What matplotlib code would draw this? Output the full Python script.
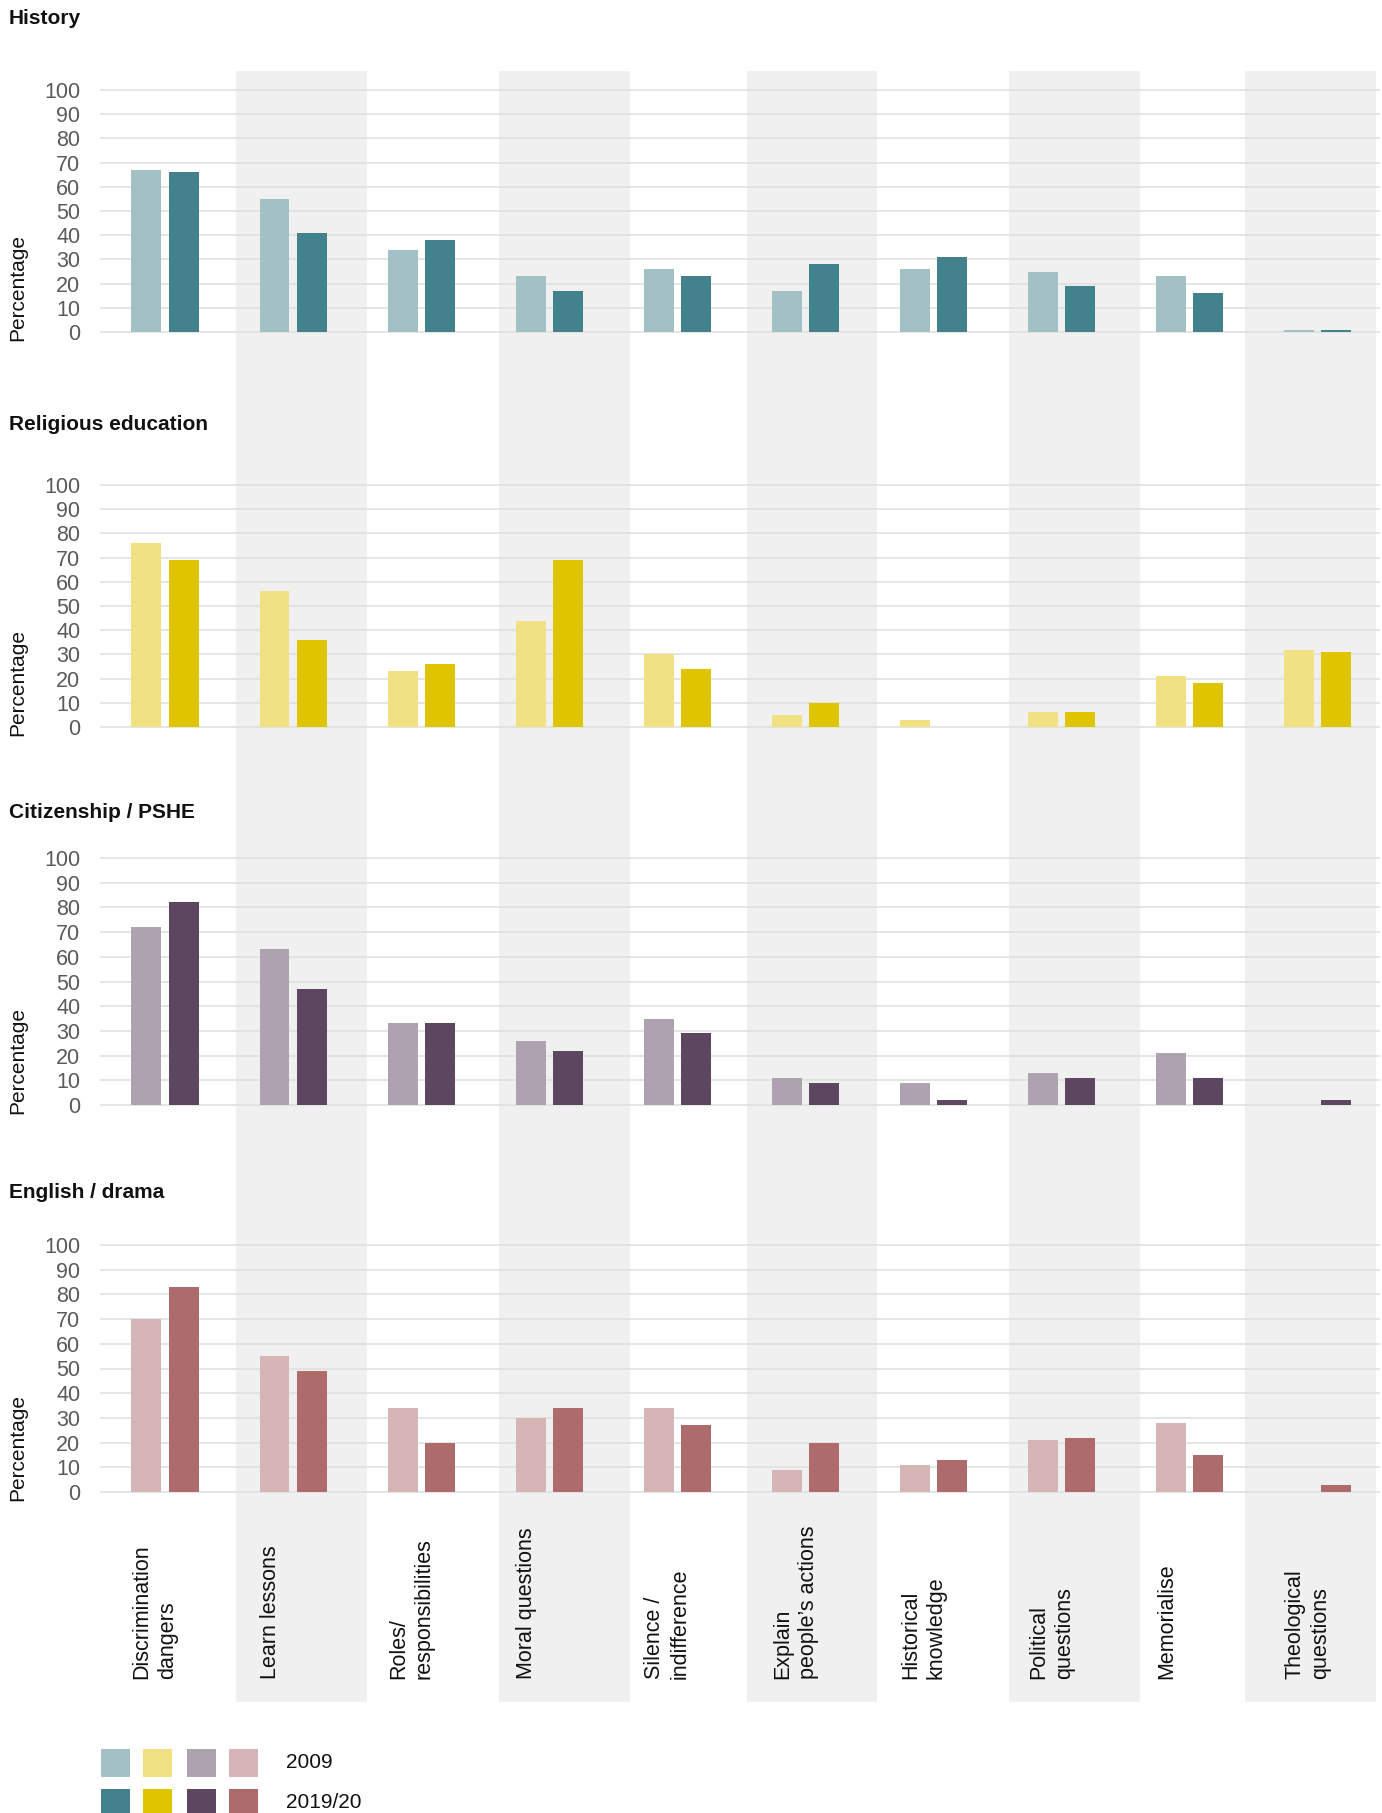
import matplotlib
matplotlib.use("Agg")
import matplotlib.pyplot as plt
import matplotlib.transforms as mtransforms
from matplotlib.patches import Rectangle
import numpy as np

plt.rcParams['font.family'] = ['Liberation Sans', 'DejaVu Sans']

categories = ["Discrimination\ndangers", "Learn lessons", "Roles/\nresponsibilities",
              "Moral questions", "Silence /\nindifference", "Explain\npeople\u2019s actions",
              "Historical\nknowledge", "Political\nquestions", "Memorialise",
              "Theological\nquestions"]
subjects = ["History", "Religious education", "Citizenship / PSHE", "English / drama"]
years = ["2009", "2019/20"]

history_2009 = [67, 55, 34, 23, 26, 17, 26, 25, 23, 1]
history_2019 = [66, 41, 38, 17, 23, 28, 31, 19, 16, 1]
re_2009 = [76, 56, 23, 44, 30, 5, 3, 6, 21, 32]
re_2019 = [69, 36, 26, 69, 24, 10, 0, 6, 18, 31]
citizenship_2009 = [72, 63, 33, 26, 35, 11, 9, 13, 21, 0]
citizenship_2019 = [82, 47, 33, 22, 29, 9, 2, 11, 11, 2]
english_2009 = [70, 55, 34, 30, 34, 9, 11, 21, 28, 0]
english_2019 = [83, 49, 20, 34, 27, 20, 13, 22, 15, 3]

series = [(history_2009, history_2019), (re_2009, re_2019),
          (citizenship_2009, citizenship_2019), (english_2009, english_2019)]
colors = [("#a3c1c5", "#43828c"), ("#f0e183", "#e0c400"),
          ("#aea2b0", "#5c4660"), ("#d6b5b6", "#ad6b6c")]

# layout in pixels of the 1382x1813 figure
W, H = 1382, 1813
def fx(px):
    return px / W
def fy(py):
    return 1 - py / H

left_px, right_px = 101, 1379
xlim = (-0.5, 9.48)
panels = [(90, 332, 18), (485, 727, 424), (858, 1105, 813), (1245, 1492, 1193)]  # y100, y0, title
band_edges = [(0.555, 1.578), (2.609, 3.633), (4.547, 5.563), (6.594, 7.617), (8.43, 9.46)]

fig = plt.figure(figsize=(W / 100, H / 100), dpi=100)

# grey column bands behind all panels
bg = fig.add_axes([fx(left_px), fy(1702), fx(right_px) - fx(left_px), (1702 - 71) / H])
bg.set_xlim(*xlim)
bg.set_ylim(0, 1)
bg.axis('off')
for a, b in band_edges:
    bg.axvspan(a, b, color='#f0f0f0', lw=0)

x = np.arange(len(categories))
bw = 0.234
off = 0.145
axes = []
for (y100, y0, ty), name, (v09, v19), (c09, c19) in zip(panels, subjects, series, colors):
    ax = fig.add_axes([fx(left_px), fy(y0), fx(right_px) - fx(left_px), (y0 - y100) / H])
    ax.patch.set_alpha(0)
    ax.set_xlim(*xlim)
    ax.set_ylim(0, 100)
    for g in range(0, 101, 10):
        ax.axhline(g, color='#dedede', lw=1.1, zorder=0, clip_on=False)
    ax.bar(x - off, v09, bw, color=c09, zorder=2)
    ax.bar(x + off, v19, bw, color=c19, zorder=2)
    ax.set_yticks(range(0, 101, 10))
    ax.set_xticks([])
    ax.tick_params(axis='y', length=0, pad=15, labelsize=15.5, labelcolor='#5a5a5a')
    for s in ax.spines.values():
        s.set_visible(False)
    fig.text(fx(9), fy(ty), name, fontsize=15, fontweight='bold', va='center', ha='left',
             color='#111111')
    fig.text(fx(18), fy(y0 + 9), "Percentage", rotation=90, ha='center', va='bottom',
             fontsize=15, color='#111111')
    axes.append(ax)

# category labels at the bottom
trans = mtransforms.blended_transform_factory(axes[-1].transData, fig.transFigure)
for i, lab in enumerate(categories):
    fig.text(i - 0.26, fy(1679), lab, transform=trans, rotation=90, ha='left', va='bottom',
             multialignment='left', fontsize=15.5, linespacing=1.3, color='#111111')

# legend
sq_x = [101, 143, 187, 229]
for row, (yr, ytop) in enumerate(zip(years, [1749, 1789])):
    for k, sx in enumerate(sq_x):
        fig.add_artist(Rectangle((fx(sx), fy(ytop + 28)), 29 / W, 28 / H,
                                 transform=fig.transFigure, color=colors[k][row], lw=0))
    fig.text(fx(286), fy(ytop + 14), yr, fontsize=15, va='center', ha='left', color='#111111')

fig.savefig("out.png", dpi=100)
